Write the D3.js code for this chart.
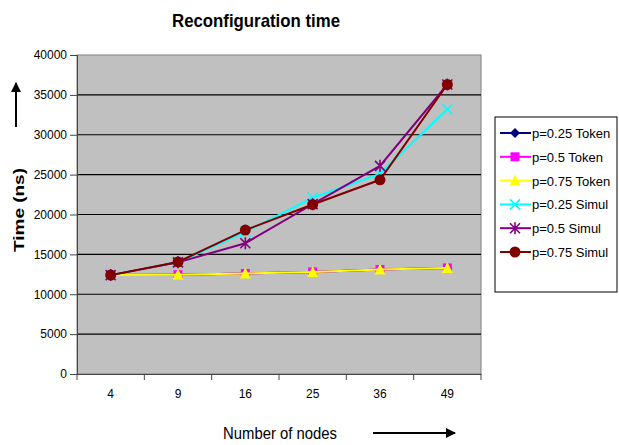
<!DOCTYPE html>
<html>
<head>
<meta charset="utf-8">
<script src="https://cdn.jsdelivr.net/npm/d3@7"></script>
<style>
body { margin: 0; background: #fff; }
text { font-family: "Liberation Sans", Arial, sans-serif; }
</style>
</head>
<body>
<div id="chart"></div>
<script>
// data
const nodes = ["4", "9", "16", "25", "36", "49"];
const seriesNames = ["p=0.25 Token", "p=0.5 Token", "p=0.75 Token", "p=0.25 Simul", "p=0.5 Simul", "p=0.75 Simul"];
const token25 = [12400, 12450, 12600, 12800, 13100, 13300];
const token50 = [12400, 12450, 12600, 12800, 13100, 13300];
const token75 = [12400, 12450, 12600, 12800, 13100, 13300];
const simul25 = [12400, 14000, 17800, 22100, 25100, 33200];
const simul50 = [12400, 14000, 16400, 21300, 26100, 36300];
const simul75 = [12400, 14050, 18050, 21250, 24350, 36300];
const yTicks = [0, 5000, 10000, 15000, 20000, 25000, 30000, 35000, 40000];

const colors = ["#000080", "#ff00ff", "#ffff00", "#00ffff", "#800080", "#800000"];
const shapes = ["diamond", "square", "triangle", "x", "asterisk", "circle"];
const allSeries = [token25, token50, token75, simul25, simul50, simul75];

const W = 619, H = 445;
const margin = {top: 55, right: 138, bottom: 71, left: 77};
const width = W - margin.left - margin.right;
const height = H - margin.top - margin.bottom;

var svg = d3.select("#chart")
    .append("svg")
    .attr("width", W)
    .attr("height", H);

var g = svg.append("g")
    .attr("transform", "translate(" + margin.left + "," + margin.top + ")");

var x = d3.scaleBand().domain(nodes).range([0, width]);
var y = d3.scaleLinear().domain([0, 40000]).range([height, 0]);

// plot area
g.append("rect")
    .attr("width", width)
    .attr("height", height)
    .attr("fill", "#c0c0c0")
    .attr("stroke", "#808080");

// gridlines
g.selectAll(".grid")
    .data(yTicks.slice(1, -1))
  .enter().append("line")
    .attr("x1", 0).attr("x2", width)
    .attr("y1", d => y(d)).attr("y2", d => y(d))
    .attr("stroke", "#000")
    .attr("stroke-width", 1.2);

// axes
var yAxis = g.append("g")
    .call(d3.axisLeft(y).tickValues(yTicks).tickFormat(d3.format("d")).tickSize(7).tickPadding(3));
var xAxis = g.append("g")
    .attr("transform", "translate(0," + height + ")")
    .call(d3.axisBottom(x).tickSize(0).tickPadding(15));
[yAxis, xAxis].forEach(a => {
    a.selectAll("text").attr("font-size", 12).attr("fill", "#000")
        .style("font-family", "'Liberation Sans', Arial, sans-serif");
    a.select(".domain").attr("stroke", "#444");
    a.selectAll(".tick line").attr("stroke", "#444");
});
// category boundary ticks
g.selectAll(".xtick")
    .data(nodes.concat(["end"]))
  .enter().append("line")
    .attr("x1", (d, i) => i * x.bandwidth()).attr("x2", (d, i) => i * x.bandwidth())
    .attr("y1", height).attr("y2", height + 6)
    .attr("stroke", "#444");

function marker(sel, shape, color) {
    var sz = 5;
    if (shape === "diamond") {
        sel.append("path").attr("d", `M0,${-sz}L${sz},0L0,${sz}L${-sz},0Z`).attr("fill", color);
    } else if (shape === "square") {
        sel.append("rect").attr("x", -4.5).attr("y", -4.5).attr("width", 9).attr("height", 9).attr("fill", color);
    } else if (shape === "triangle") {
        sel.append("path").attr("d", `M0,-6L5.5,5L-5.5,5Z`).attr("fill", color);
    } else if (shape === "x") {
        sel.append("path").attr("d", "M-5,-5L5,5M-5,5L5,-5").attr("stroke", color).attr("stroke-width", 1.6);
    } else if (shape === "asterisk") {
        sel.append("path").attr("d", "M-5,-5L5,5M-5,5L5,-5M0,-6L0,6").attr("stroke", color).attr("stroke-width", 1.6);
    } else {
        sel.append("circle").attr("r", 5.5).attr("fill", color);
    }
}

var line = d3.line()
    .x((d, i) => x(nodes[i]) + x.bandwidth() / 2)
    .y(d => y(d));

allSeries.forEach((vals, si) => {
    g.append("path")
        .datum(vals)
        .attr("d", line)
        .attr("fill", "none")
        .attr("stroke", colors[si])
        .attr("stroke-width", 2);
    g.selectAll(".m" + si)
        .data(vals)
      .enter().append("g")
        .attr("transform", (d, i) => "translate(" + (x(nodes[i]) + x.bandwidth() / 2) + "," + y(d) + ")")
        .each(function() { marker(d3.select(this), shapes[si], colors[si]); });
});

// title (condensed like Arial Narrow)
svg.append("text")
    .attr("x", 172).attr("y", 27)
    .attr("font-size", 19)
    .attr("font-weight", "bold")
    .attr("textLength", 168)
    .attr("lengthAdjust", "spacingAndGlyphs")
    .text("Reconfiguration time");

// axis titles
svg.append("text")
    .attr("transform", "translate(24,210) rotate(-90)")
    .attr("text-anchor", "middle")
    .attr("font-size", 15)
    .attr("font-weight", "bold")
    .attr("textLength", 84)
    .attr("lengthAdjust", "spacingAndGlyphs")
    .text("Time (ns)");
svg.append("text")
    .attr("x", 223).attr("y", 439)
    .attr("font-size", 17)
    .attr("textLength", 114)
    .attr("lengthAdjust", "spacingAndGlyphs")
    .text("Number of nodes");

// arrows
svg.append("defs").append("marker")
    .attr("id", "arrow")
    .attr("viewBox", "0 0 10 10")
    .attr("refX", 9).attr("refY", 5)
    .attr("markerWidth", 5).attr("markerHeight", 5)
    .attr("orient", "auto")
  .append("path").attr("d", "M0,0L10,5L0,10Z").attr("fill", "#000");
svg.append("line")
    .attr("x1", 16).attr("y1", 127).attr("x2", 16).attr("y2", 83)
    .attr("stroke", "#000").attr("stroke-width", 2)
    .attr("marker-end", "url(#arrow)");
svg.append("line")
    .attr("x1", 373).attr("y1", 433).attr("x2", 455).attr("y2", 433)
    .attr("stroke", "#000").attr("stroke-width", 2)
    .attr("marker-end", "url(#arrow)");

// legend
var legend = svg.append("g").attr("transform", "translate(495,117)");
legend.append("rect")
    .attr("width", 122).attr("height", 175)
    .attr("fill", "#fff").attr("stroke", "#000");
seriesNames.forEach((name, i) => {
    var row = legend.append("g").attr("transform", "translate(0," + (16 + i * 23.8) + ")");
    row.append("line").attr("x1", 5).attr("x2", 36).attr("stroke", colors[i]).attr("stroke-width", 2);
    marker(row.append("g").attr("transform", "translate(20,0)"), shapes[i], colors[i]);
    row.append("text")
        .attr("x", 37).attr("y", 5)
        .attr("font-size", 13)
        .text(name);
});
</script>
</body>
</html>
